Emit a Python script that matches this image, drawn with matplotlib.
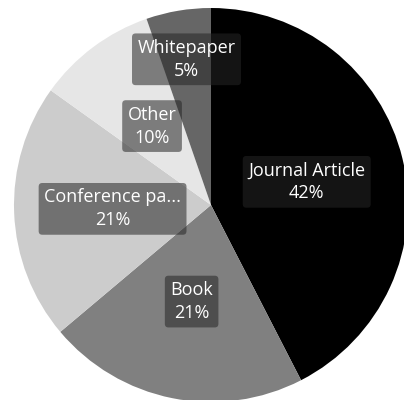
import matplotlib.pyplot as plt
import numpy as np

# share of publication types (clockwise from 12 o'clock)
labels = ["Journal Article", "Book", "Conference pa...", "Other", "Whitepaper"]
values = [42.4, 21.4, 21.0, 9.8, 5.3]
colors = ["#000000", "#808080", "#cccccc", "#e6e6e6", "#666666"]
label_dist = [0.5, 0.5, 0.5, 0.5, 0.75]

fig = plt.figure(figsize=(4.04, 4.0), dpi=100)
ax = fig.add_axes([14 / 404, -2 / 400, 394 / 404, 394 / 400])

wedges, _ = ax.pie(values, colors=colors, startangle=90, counterclock=False,
                   radius=1, wedgeprops=dict(linewidth=0))
for w in wedges:
    w.set_clip_on(False)

total = sum(values)
for w, lab, v, d in zip(wedges, labels, values, label_dist):
    mid = np.deg2rad((w.theta1 + w.theta2) / 2)
    x, y = d * np.cos(mid), d * np.sin(mid)
    ax.text(x, y, f"{lab}\n{round(v / total * 100)}%", ha="center", va="center",
            color="white", fontsize=13, family="Open Sans", linespacing=1.35,
            bbox=dict(boxstyle="round,pad=0.3,rounding_size=0.2",
                      facecolor="#262626", alpha=0.55, edgecolor="none"))

ax.set_xlim(-1, 1)
ax.set_ylim(-1, 1)
ax.axis("off")
fig.savefig("out.png", dpi=100)
